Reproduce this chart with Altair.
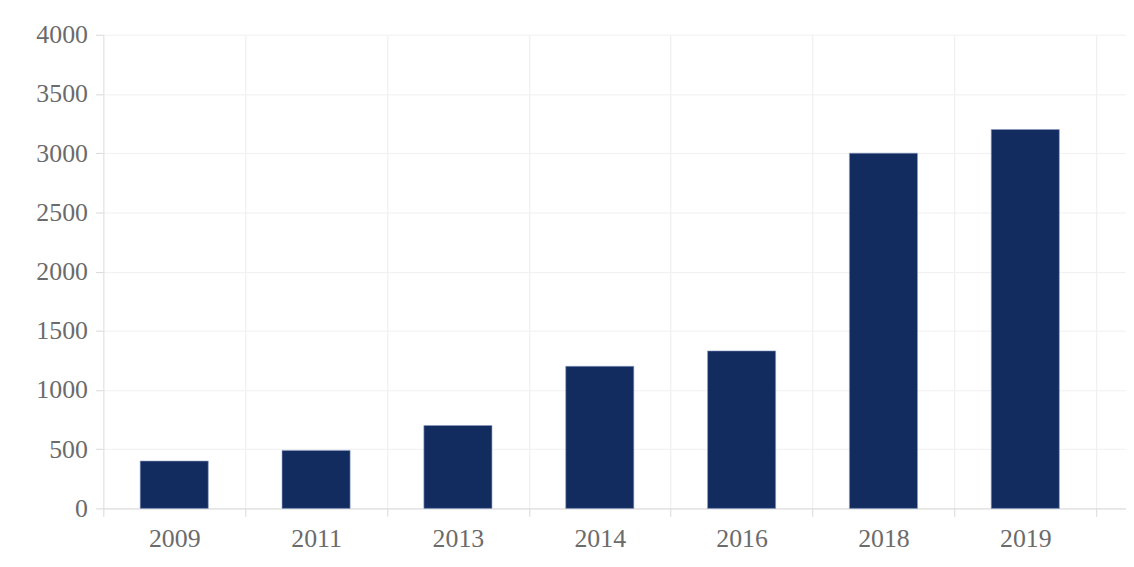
import altair as alt
import pandas as pd

years = ["2009", "2011", "2013", "2014", "2016", "2018", "2019"]
values = [400, 490, 700, 1200, 1330, 3000, 3200]
y_ticks = [0, 500, 1000, 1500, 2000, 2500, 3000, 3500, 4000]

df = pd.DataFrame({"year": years, "value": values})

FONT = "Liberation Serif"
LABEL_COLOR = "#6b6b6b"

chart = alt.Chart(df).mark_bar(
    color="#132c60", stroke="#8a99c2", strokeWidth=0.6,
    width=alt.RelativeBandSize(0.48),
).encode(
    x=alt.X(
        "year:N",
        sort=years,
        title=None,
        scale=alt.Scale(paddingInner=0, paddingOuter=0.105, align=0),
        axis=alt.Axis(
            labelAngle=0,
            labelFont=FONT,
            labelFontSize=26,
            labelColor=LABEL_COLOR,
            labelPadding=9,
            tickBand="extent",
            grid=True,
            gridColor="#ececec",
            domainColor="#d9d9d9",
            tickColor="#d9d9d9",
            tickSize=8,
        ),
    ),
    y=alt.Y(
        "value:Q",
        title=None,
        scale=alt.Scale(domain=[0, 4000], nice=False),
        axis=alt.Axis(
            values=y_ticks,
            format="d",
            labelFont=FONT,
            labelFontSize=26,
            labelColor=LABEL_COLOR,
            labelPadding=8,
            grid=True,
            gridColor="#f0f0f0",
            domainColor="#e3e3e3",
            tickColor="#d9d9d9",
            tickSize=8,
        ),
    ),
).properties(
    width=1030,
    height=477,
    autosize=alt.AutoSizeParams(type="none"),
    padding={"left": 96, "top": 25, "right": 0, "bottom": 50},
).configure_view(stroke=None)

chart.save("out.html", embed_options={"renderer": "svg", "actions": False})
